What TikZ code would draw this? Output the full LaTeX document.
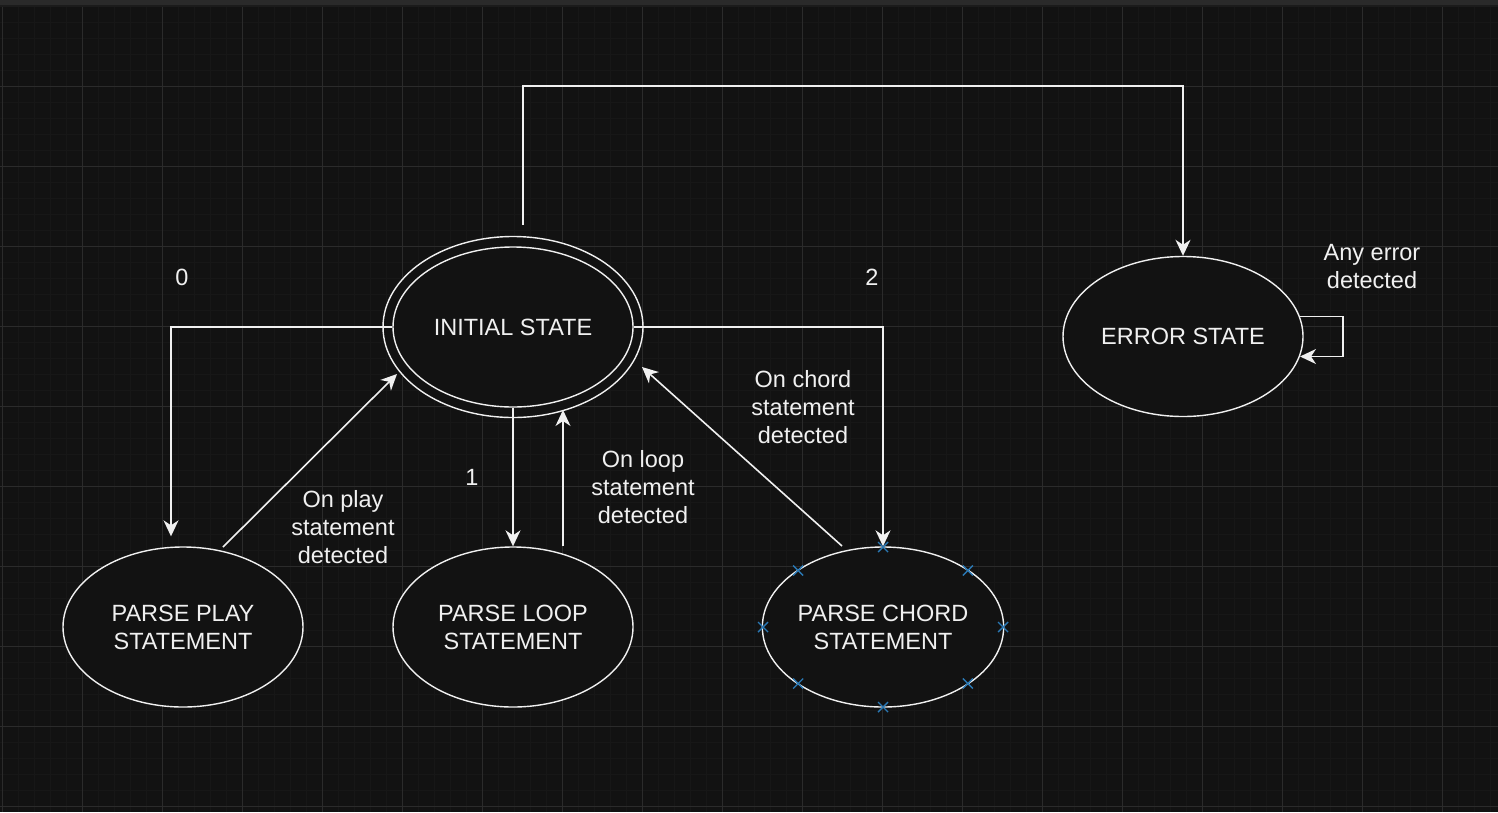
\documentclass[tikz,border=0pt]{standalone}
\usepackage{fontspec}
\setmainfont{Liberation Sans}
\usetikzlibrary{shapes.geometric,arrows.meta,calc}
\definecolor{canvas}{HTML}{121212}
\definecolor{gridminor}{HTML}{171717}
\definecolor{gridmajor}{HTML}{2B2B2B}
\definecolor{ink}{HTML}{F0F0F0}
\definecolor{topbar}{HTML}{2A2A2A}
\definecolor{topedge}{HTML}{1B1B1B}
\definecolor{handle}{HTML}{2A78B4}
\begin{document}
\begin{tikzpicture}[x=1pt,y=-1pt,
  state/.style={ellipse,draw=ink,line width=1.4pt,fill=canvas,
    minimum width=240pt,minimum height=160pt,inner sep=0pt,align=center,
    text=ink,font=\fontsize{23.5}{28}\selectfont},
  lbl/.style={align=center,text=ink,font=\fontsize{23.5}{28}\selectfont,inner sep=0pt},
  link/.style={draw=ink,line width=1.6pt,
    -{Stealth[length=16pt,width=15pt,inset=5pt]}},
  handlemark/.style={draw=handle,line width=1.4pt}
]
\useasboundingbox (0,0) rectangle (1498,812);
% canvas and grid
\fill[canvas] (0,0) rectangle (1498,812);
\foreach \x in {2.7,18.7,...,1498} \draw[gridminor,line width=1pt] (\x,7) -- (\x,812);
\foreach \y in {6.7,22.7,...,812} \draw[gridminor,line width=1pt] (0,\y) -- (1498,\y);
\foreach \x in {2.7,82.7,...,1498} \draw[gridmajor,line width=1.2pt] (\x,7) -- (\x,812);
\foreach \y in {86.7,166.7,...,812} \draw[gridmajor,line width=1.2pt] (0,\y) -- (1498,\y);
\fill[topbar] (0,0) rectangle (1498,5);
\fill[topedge] (0,5) rectangle (1498,7);

% states
\node[state,minimum width=260pt,minimum height=181pt] (init) at (513,327) {};
\node[state] (initcore) at (init) {INITIAL STATE};
\node[state] (play) at (183,627) {PARSE PLAY\\STATEMENT};
\node[state] (loop) at (513,627) {PARSE LOOP\\STATEMENT};
\node[state] (chord) at (883,627) {PARSE CHORD\\STATEMENT};
\node[state] (err) at (1183,336.5) {ERROR STATE};

% transitions
\draw[link] (initcore.west) -| ($(play.north)+(-12,-10)$);
\draw[link] ($(play)+(40,-80)$) -- ($(init)+(-116,47)$);
\draw[link] (initcore.south) -- (loop.north);
\draw[link] ($(loop.north)+(50,0)$) -- ($(init)+(50,83)$);
\draw[link] ($(chord)+(-41,-81)$) -- ($(init)+(129,40)$);
\draw[link] (initcore.east) -| (chord.north);
\coordinate (errtap) at ($(init.north)+(10,-11)$);
\draw[link] (errtap) -- ++(0,-139) -| (err.north);
\draw[link] ($(err)+(117,-20)$) -- ++(43,0) |- ($(err)+(117,20)$);

% connection handles
\foreach \a in {0,45,...,315}
  \draw[handlemark] ($(chord)+({120*cos(\a)},{80*sin(\a)})$) +(-5,-5) -- +(5,5) +(-5,5) -- +(5,-5);

% labels
\node[lbl] (lzero) at (182,277) {0};
\node[lbl] (lplay) at (343,527) {On play\\statement\\detected};
\node[lbl] (lone) at (472,477) {1};
\node[lbl] (lloop) at (643,487) {On loop\\statement\\detected};
\node[lbl] (lchord) at (803,407) {On chord\\statement\\detected};
\node[lbl] (ltwo) at (872,277) {2};
\node[lbl] (lerr) at (1372,267) {Any error\\detected};
\end{tikzpicture}
\end{document}
